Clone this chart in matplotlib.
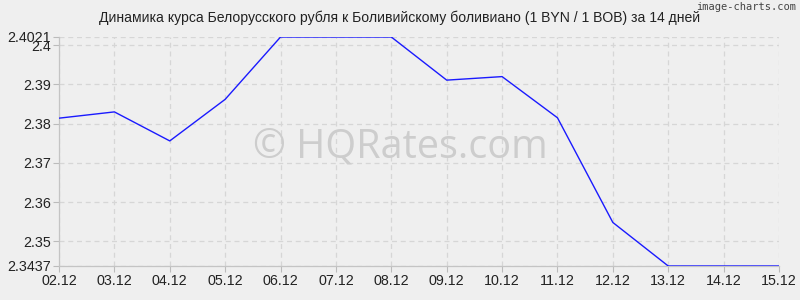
import matplotlib
matplotlib.use("Agg")
import matplotlib.pyplot as plt

# Rate BYN/BOB over 14 days
dates = ["02.12", "03.12", "04.12", "05.12", "06.12", "07.12", "08.12",
         "09.12", "10.12", "11.12", "12.12", "13.12", "14.12", "15.12"]
rates = [2.3814, 2.3830, 2.3756, 2.3862, 2.4021, 2.4021, 2.4021,
         2.3911, 2.3920, 2.3815, 2.3548, 2.3437, 2.3437, 2.3437]
y_ticks = [2.3437, 2.35, 2.36, 2.37, 2.38, 2.39, 2.40, 2.4021]
y_labels = ["2.3437", "2.35", "2.36", "2.37", "2.38", "2.39", "2.4", "2.4021"]

BG = "#efefef"
plt.rcParams["font.family"] = ["Liberation Sans", "DejaVu Sans"]

fig = plt.figure(figsize=(8, 3), dpi=100, facecolor=BG)
ax = fig.add_axes([59 / 800, 1 - 266 / 300, 720 / 800, 229 / 300], facecolor=BG)

x = list(range(len(dates)))
ax.plot(x, rates, color="#1a1aff", linewidth=1.0, zorder=3)

ax.set_xlim(0, len(dates) - 1)
ax.set_ylim(y_ticks[0], y_ticks[-1])
ax.set_xticks(x)
ax.set_xticklabels(dates)
ax.set_yticks(y_ticks)
ax.set_yticklabels(y_labels)
ax.tick_params(axis="both", labelsize=10.3, colors="#222222", length=4,
               width=0.8, pad=2)
ax.tick_params(axis="both", color="#bbbbbb")

ax.grid(True, color="#d6d6d6", linestyle=(0, (4, 3)), linewidth=0.9)
for side in ["top", "right"]:
    ax.spines[side].set_visible(False)
for side in ["left", "bottom"]:
    ax.spines[side].set_color("#c4c4c4")
    ax.spines[side].set_linewidth(0.9)

# watermark, centred on the figure rather than the axes
fig.text(0.5, 1 - 147 / 300, "© HQRates.com", ha="center", va="center",
         fontsize=28.5, color="#cdcdcd", family="Open Sans", zorder=1)

fig.text(0.5, 1 - 18 / 300, "Динамика курса Белорусского рубля к Боливийскому боливиано (1 BYN / 1 BOB) за 14 дней",
         ha="center", va="center", fontsize=10.1, color="#222222")
fig.text(796 / 800, 1 - 7 / 300, "image-charts.com", ha="right", va="center",
         fontsize=7.5, color="#444444", family="DejaVu Sans Mono")

fig.savefig("out.png", dpi=100, facecolor=BG)
